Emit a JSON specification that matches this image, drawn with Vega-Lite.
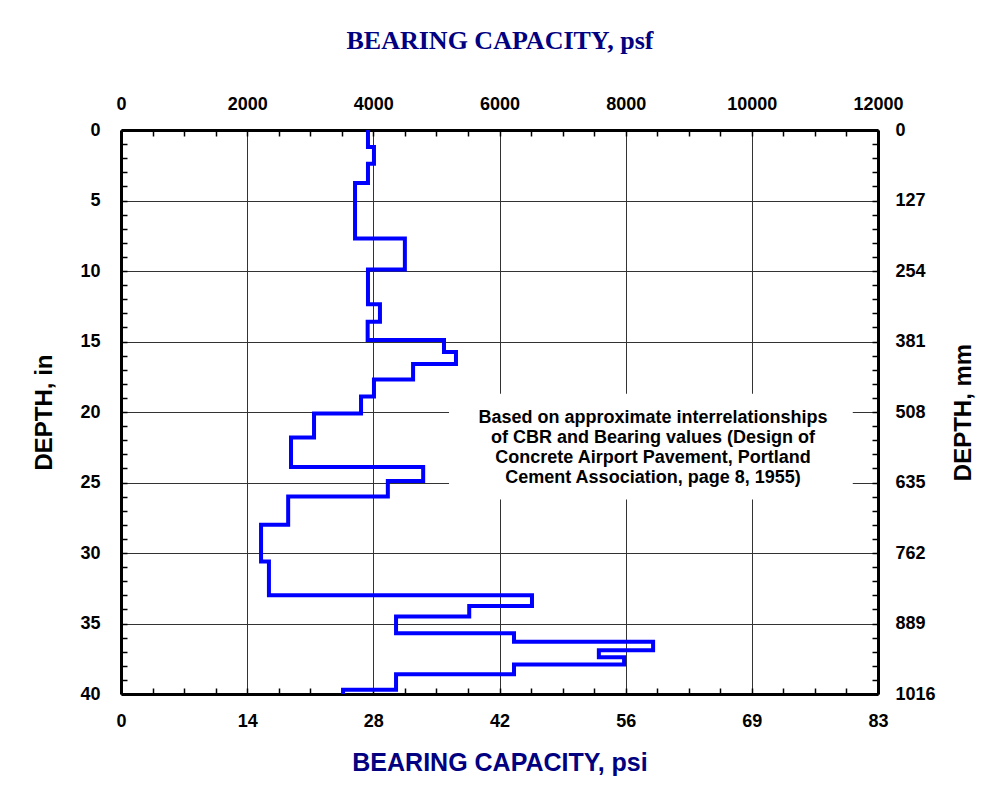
{
  "$schema": "https://vega.github.io/schema/vega-lite/v6.json",
  "width": 757,
  "height": 564,
  "autosize": {"type": "none"},
  "padding": {"left": 121, "top": 130, "right": 118, "bottom": 103},
  "background": "white",
  "config": {
    "view": {"stroke": null},
    "axis": {
      "domainColor": "black",
      "domainWidth": 3,
      "tickColor": "black",
      "tickWidth": 1.5,
      "tickSize": -6,
      "labelFont": "Liberation Sans",
      "labelFontWeight": "bold",
      "labelFontSize": 18,
      "labelColor": "black",
      "labelFlush": false,
      "labelOverlap": false,
      "titleFont": "Liberation Sans",
      "titleFontWeight": "bold",
      "titleFontSize": 24,
      "titleColor": "black"
    }
  },
  "datasets": {
    "profile": [
      {"depth": 0, "psf": 3915},
      {"depth": 1.2, "psf": 4010},
      {"depth": 2.4, "psf": 3915},
      {"depth": 3.75, "psf": 3710},
      {"depth": 7.7, "psf": 4500},
      {"depth": 9.9, "psf": 3915},
      {"depth": 12.35, "psf": 4105},
      {"depth": 13.6, "psf": 3910},
      {"depth": 14.9, "psf": 5120},
      {"depth": 15.75, "psf": 5310},
      {"depth": 16.6, "psf": 4630},
      {"depth": 17.7, "psf": 4010},
      {"depth": 18.9, "psf": 3805},
      {"depth": 20.1, "psf": 3060},
      {"depth": 21.8, "psf": 2695},
      {"depth": 23.9, "psf": 4790},
      {"depth": 24.9, "psf": 4230},
      {"depth": 26.0, "psf": 2650},
      {"depth": 28.0, "psf": 2220},
      {"depth": 30.6, "psf": 2345},
      {"depth": 33.0, "psf": 6515},
      {"depth": 33.75, "psf": 5520},
      {"depth": 34.5, "psf": 4360},
      {"depth": 35.7, "psf": 6230},
      {"depth": 36.3, "psf": 8435},
      {"depth": 36.9, "psf": 7575},
      {"depth": 37.4, "psf": 7975},
      {"depth": 37.9, "psf": 6230},
      {"depth": 38.6, "psf": 4360},
      {"depth": 39.7, "psf": 3520},
      {"depth": 40.0, "psf": 3520}
    ]
  },
  "layer": [
    {
      "data": {"values": [{}]},
      "mark": {"type": "rect", "color": "white"},
      "encoding": {
        "x": {"datum": 5200, "type": "quantitative", "scale": {"domain": [0, 12000], "nice": false, "zero": false}, "axis": null},
        "x2": {"datum": 11600},
        "y": {"datum": 18.7, "type": "quantitative", "scale": {"domain": [0, 40], "nice": false, "zero": false, "reverse": true}, "axis": null},
        "y2": {"datum": 26.2}
      }
    },
    {
      "data": {"name": "profile"},
      "mark": {"type": "line", "interpolate": "step-before", "color": "#0000FF", "strokeWidth": 4, "strokeJoin": "miter", "clip": false},
      "encoding": {
        "x": {
          "field": "psf", "type": "quantitative",
          "scale": {"domain": [0, 12000], "nice": false, "zero": false},
          "axis": {
            "orient": "top",
            "values": [0, 500, 1000, 1500, 2000, 2500, 3000, 3500, 4000, 4500, 5000, 5500, 6000, 6500, 7000, 7500, 8000, 8500, 9000, 9500, 10000, 10500, 11000, 11500, 12000],
            "labelExpr": "datum.value % 2000 === 0 ? format(datum.value, 'd') : ''",
            "grid": true,
            "gridColor": "#333333",
            "gridWidth": 1,
            "gridOpacity": {"condition": {"test": "datum.value % 2000 === 0 && datum.value > 0 && datum.value < 12000", "value": 1}, "value": 0},
            "labelPadding": 23,
            "title": "BEARING CAPACITY, psf",
            "titleFont": "Liberation Serif",
            "titleFontSize": 26,
            "titleColor": "#000080",
            "titlePadding": 42
          }
        },
        "y": {
          "field": "depth", "type": "quantitative",
          "scale": {"domain": [0, 40], "nice": false, "zero": false, "reverse": true},
          "axis": {
            "orient": "left",
            "values": [0,1,2,3,4,5,6,7,8,9,10,11,12,13,14,15,16,17,18,19,20,21,22,23,24,25,26,27,28,29,30,31,32,33,34,35,36,37,38,39,40],
            "labelExpr": "datum.value % 5 === 0 ? format(datum.value, 'd') : ''",
            "grid": true,
            "gridColor": "#333333",
            "gridWidth": 1,
            "gridOpacity": {"condition": {"test": "datum.value % 5 === 0 && datum.value > 0 && datum.value < 40", "value": 1}, "value": 0},
            "labelPadding": 27,
            "title": "DEPTH, in",
            "titlePadding": 23
          }
        },
        "order": {"field": "depth", "type": "quantitative"}
      }
    },
    {
      "data": {"values": [{}]},
      "mark": {"type": "text", "font": "Liberation Sans", "fontWeight": "bold", "fontSize": 18, "align": "center", "baseline": "middle", "lineHeight": 20, "color": "black"},
      "encoding": {
        "x": {
          "datum": 8433, "type": "quantitative",
          "scale": {"domain": [0, 12000], "nice": false, "zero": false},
          "axis": {
            "orient": "bottom",
            "values": [0, 500, 1000, 1500, 2000, 2500, 3000, 3500, 4000, 4500, 5000, 5500, 6000, 6500, 7000, 7500, 8000, 8500, 9000, 9500, 10000, 10500, 11000, 11500, 12000],
            "labelExpr": "datum.value % 2000 === 0 ? format(datum.value / 144, '.0f') : ''",
            "grid": false,
            "labelPadding": 24,
            "title": "BEARING CAPACITY, psi",
            "titleFontSize": 25,
            "titleColor": "#000080",
            "titlePadding": 20
          }
        },
        "y": {
          "datum": 20.45, "type": "quantitative",
          "scale": {"domain": [0, 40], "nice": false, "zero": false, "reverse": true},
          "axis": {
            "orient": "right",
            "values": [0,1,2,3,4,5,6,7,8,9,10,11,12,13,14,15,16,17,18,19,20,21,22,23,24,25,26,27,28,29,30,31,32,33,34,35,36,37,38,39,40],
            "labelExpr": "datum.value % 5 === 0 ? format(datum.value * 25.4, '.0f') : ''",
            "grid": false,
            "labelPadding": 23,
            "title": "DEPTH, mm",
            "titleAngle": 270,
            "titlePadding": 40
          }
        },
        "text": {"value": ["Based on approximate interrelationships", "of CBR and Bearing values (Design of", "Concrete Airport Pavement, Portland", "Cement Association, page 8, 1955)"]}
      }
    }
  ],
  "resolve": {"axis": {"x": "independent", "y": "independent"}}
}
